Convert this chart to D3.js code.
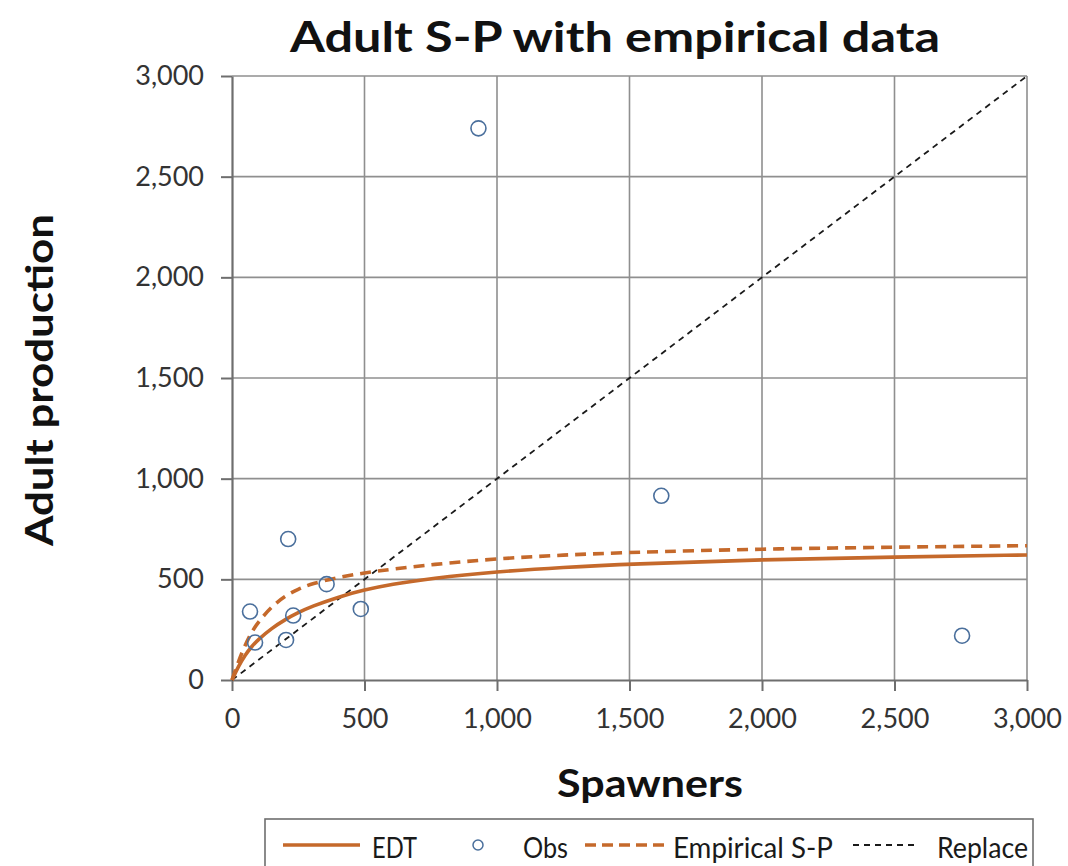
<!DOCTYPE html>
<html>
<head>
<meta charset="utf-8">
<script src="https://cdn.jsdelivr.net/npm/d3@7"></script>
<style>
  html, body { margin: 0; padding: 0; background: #fff; }
  svg { display: block; }
  text { font-family: Lato, "Open Sans", sans-serif; }
</style>
</head>
<body>
<svg id="chart" width="1068" height="866"></svg>
<script>
// Observed spawner / adult production pairs
const obsSpawners   = [930, 1620, 2755, 212, 357, 68, 231, 486, 87, 204];
const obsProduction = [2740, 915, 220, 700, 476, 340, 320, 353, 186, 199];

// Curve sample points (spawners) and the two production curves
const curveSpawners = [0, 25, 50, 75, 100, 150, 200, 250, 300, 400, 500, 600, 750, 1000, 1250, 1500, 2000, 2500, 3000];
const edtProduction = [0, 70, 125, 168, 202, 257, 300, 335, 365, 412, 448, 475, 505, 538, 560, 576, 598, 611, 621];
const empProduction = [0, 95, 175, 240, 290, 365, 418, 452, 478, 510, 532, 550, 573, 603, 621, 634, 651, 660, 667];

// Replacement line end points
const replaceSpawners   = [0, 3000];
const replaceProduction = [0, 3000];

const xTicks = [0, 500, 1000, 1500, 2000, 2500, 3000];
const yTicks = [0, 500, 1000, 1500, 2000, 2500, 3000];

const orange = "#c5692b";
const obsBlue = "#4a6f9c";

const svg = d3.select("#chart");
const x = d3.scaleLinear().domain([0, 3000]).range([232, 1027]);
const y = d3.scaleLinear().domain([0, 3000]).range([680, 76]);
const fmt = d3.format(",");

// gridlines
const grid = svg.append("g");
grid.selectAll("line.vg").data(xTicks.slice(1)).join("line")
  .attr("x1", d => x(d)).attr("x2", d => x(d))
  .attr("y1", y(0)).attr("y2", y(3000))
  .attr("stroke", "#8f8f8f").attr("stroke-width", 1.6);
grid.selectAll("line.hg").data(yTicks.slice(1)).join("line")
  .attr("y1", d => y(d)).attr("y2", d => y(d))
  .attr("x1", x(0)).attr("x2", x(3000))
  .attr("stroke", "#8f8f8f").attr("stroke-width", 1.6);

// axes
const xAxis = svg.append("g").attr("transform", `translate(0,${y(0)})`)
  .call(d3.axisBottom(x).tickValues(xTicks).tickFormat(fmt).tickSizeInner(11).tickSizeOuter(0).tickPadding(18));
const yAxis = svg.append("g").attr("transform", `translate(${x(0)},0)`)
  .call(d3.axisLeft(y).tickValues(yTicks).tickFormat(fmt).tickSizeInner(11).tickSizeOuter(0).tickPadding(17));
[xAxis, yAxis].forEach(a => {
  a.select(".domain").attr("stroke", "#6e6e6e").attr("stroke-width", 2.2);
  a.selectAll(".tick line").attr("stroke", "#6e6e6e").attr("stroke-width", 2);
  a.selectAll(".tick text").attr("fill", "#333").attr("font-size", 27)
    .attr("font-family", "Lato, 'Open Sans', sans-serif");
});
xAxis.selectAll(".tick text").attr("dy", "0.71em");

// replacement line
const line = d3.line().x(d => x(d[0])).y(d => y(d[1]));
svg.append("path")
  .datum(d3.zip(replaceSpawners, replaceProduction))
  .attr("d", line)
  .attr("fill", "none").attr("stroke", "#1a1a1a").attr("stroke-width", 1.8)
  .attr("stroke-dasharray", "6,5");

// curves
const smooth = d3.line().x(d => x(d[0])).y(d => y(d[1])).curve(d3.curveBasis);
svg.append("path")
  .datum(d3.zip(curveSpawners, edtProduction))
  .attr("d", smooth)
  .attr("fill", "none").attr("stroke", orange).attr("stroke-width", 3.6);
svg.append("path")
  .datum(d3.zip(curveSpawners, empProduction))
  .attr("d", smooth)
  .attr("fill", "none").attr("stroke", orange).attr("stroke-width", 3.6)
  .attr("stroke-dasharray", "11,7");

// observations
svg.append("g").selectAll("circle")
  .data(d3.zip(obsSpawners, obsProduction)).join("circle")
  .attr("cx", d => x(d[0])).attr("cy", d => y(d[1])).attr("r", 7.5)
  .attr("fill", "none").attr("stroke", obsBlue).attr("stroke-width", 1.6);

// titles
function fitText(sel, len) {
  sel.attr("textLength", len).attr("lengthAdjust", "spacingAndGlyphs");
}
svg.append("text").attr("x", 615).attr("y", 52).attr("text-anchor", "middle")
  .attr("font-size", 42).attr("font-weight", 700).attr("fill", "#111")
  .text("Adult S-P with empirical data").call(fitText, 650);
svg.append("text").attr("x", 650).attr("y", 797).attr("text-anchor", "middle")
  .attr("font-size", 38).attr("font-weight", 700).attr("fill", "#111")
  .text("Spawners").call(fitText, 186);
svg.append("text").attr("transform", "translate(53,380) rotate(-90)").attr("text-anchor", "middle")
  .attr("font-size", 38).attr("font-weight", 700).attr("fill", "#111")
  .text("Adult production").call(fitText, 332);

// legend
const lg = svg.append("g");
lg.append("rect").attr("x", 265).attr("y", 819).attr("width", 768).attr("height", 70)
  .attr("fill", "#fff").attr("stroke", "#6e6e6e").attr("stroke-width", 1.6);
const ly = 845;
lg.append("line").attr("x1", 283).attr("x2", 360).attr("y1", ly).attr("y2", ly)
  .attr("stroke", orange).attr("stroke-width", 3.6);
lg.append("circle").attr("cx", 478).attr("cy", ly).attr("r", 5)
  .attr("fill", "none").attr("stroke", obsBlue).attr("stroke-width", 1.5);
lg.append("line").attr("x1", 585).attr("x2", 668).attr("y1", ly).attr("y2", ly)
  .attr("stroke", orange).attr("stroke-width", 3.6).attr("stroke-dasharray", "11,6");
lg.append("line").attr("x1", 853).attr("x2", 918).attr("y1", ly).attr("y2", ly)
  .attr("stroke", "#1a1a1a").attr("stroke-width", 1.8).attr("stroke-dasharray", "6,5");
const legendLabels = ["EDT", "Obs", "Empirical S-P", "Replace"];
const legendX = [372, 523, 673, 937];
const legendW = [45, 45, 160, 91];
legendLabels.forEach((t, i) => {
  lg.append("text").attr("x", legendX[i]).attr("y", 858)
    .attr("font-size", 29).attr("fill", "#1a1a1a").text(t).call(fitText, legendW[i]);
});
</script>
</body>
</html>
